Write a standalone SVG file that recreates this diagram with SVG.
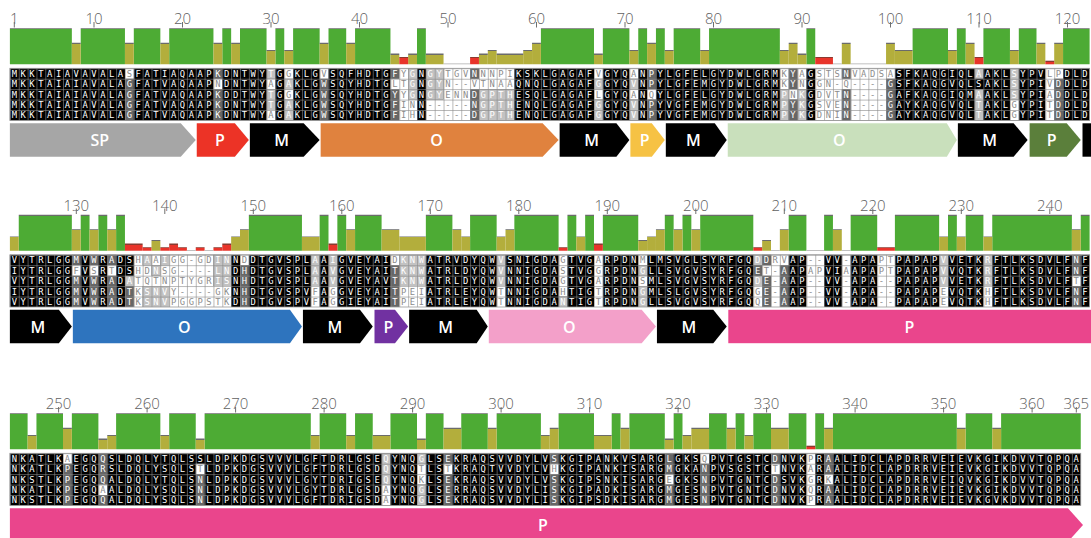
<svg xmlns="http://www.w3.org/2000/svg" width="1091" height="538" viewBox="0 0 1091 538">
<style>
.num{font-family:"Open Sans","Liberation Sans",sans-serif;font-size:15px;font-weight:300;fill:#5f5f5f;text-anchor:middle}
.tk{stroke:#6f6f6f;stroke-width:1;fill:none}
.seq{font-family:"DejaVu Sans Mono","Liberation Mono",monospace;font-size:8.8px;letter-spacing:3.552px}
.lab{font-family:"Open Sans","Liberation Sans",sans-serif;font-size:16px;font-weight:600;fill:#fff;text-anchor:middle}
.bG{fill:url(#gG)}.bA{fill:url(#gA)}.bB{fill:url(#gB)}.bC{fill:url(#gC)}.bD{fill:url(#gD)}.bE{fill:url(#gE)}.bZ{fill:#ababab}
.cd{fill:#666}.cl{fill:#c2c2c2}.cw{fill:#fff}
.blk{fill:#000}
.grid{fill:url(#grid);stroke:#9a9a9a;stroke-width:.8}
</style>
<defs>
<linearGradient id="gG" gradientUnits="userSpaceOnUse" x1="0" y1="28.3" x2="0" y2="64.3"><stop offset="0" stop-color="#6b6b6b"/><stop offset=".028" stop-color="#6b6b6b"/><stop offset=".028" stop-color="#4dab34"/><stop offset="1" stop-color="#4dab34"/></linearGradient>
<linearGradient id="gA" gradientUnits="userSpaceOnUse" x1="0" y1="42.7" x2="0" y2="64.3"><stop offset="0" stop-color="#6b6b6b"/><stop offset=".046" stop-color="#6b6b6b"/><stop offset=".046" stop-color="#b3ae3c"/><stop offset="1" stop-color="#b3ae3c"/></linearGradient>
<linearGradient id="gB" gradientUnits="userSpaceOnUse" x1="0" y1="49.9" x2="0" y2="64.3"><stop offset="0" stop-color="#6b6b6b"/><stop offset=".07" stop-color="#6b6b6b"/><stop offset=".07" stop-color="#b3ae3c"/><stop offset="1" stop-color="#b3ae3c"/></linearGradient>
<linearGradient id="gC" gradientUnits="userSpaceOnUse" x1="0" y1="53.5" x2="0" y2="64.3"><stop offset="0" stop-color="#6b6b6b"/><stop offset=".093" stop-color="#6b6b6b"/><stop offset=".093" stop-color="#b3ae3c"/><stop offset="1" stop-color="#b3ae3c"/></linearGradient>
<linearGradient id="gD" gradientUnits="userSpaceOnUse" x1="0" y1="57.1" x2="0" y2="64.3"><stop offset="0" stop-color="#8a3a30"/><stop offset=".14" stop-color="#8a3a30"/><stop offset=".14" stop-color="#e8342a"/><stop offset="1" stop-color="#e8342a"/></linearGradient>
<linearGradient id="gE" gradientUnits="userSpaceOnUse" x1="0" y1="60.7" x2="0" y2="64.3"><stop offset="0" stop-color="#8a3a30"/><stop offset=".28" stop-color="#8a3a30"/><stop offset=".28" stop-color="#e8342a"/><stop offset="1" stop-color="#e8342a"/></linearGradient>
<pattern id="grid" patternUnits="userSpaceOnUse" x="9.9" y="68.3" width="8.85" height="10.44"><rect width="0.6" height="10.44" fill="#8a8a8a"/><rect width="8.85" height="0.6" fill="#8a8a8a"/></pattern>
<path id="w1" d="M13 0h1v1h-1zM31 0h1v1h-1zM35 0h1v1h-1zM44 0h1v1h-1zM49 0h3v1h-3zM53 0h4v1h-4zM66 0h1v1h-1zM70 0h1v1h-1zM87 0h1v1h-1zM89 0h1v1h-1zM91 0h3v1h-3zM95 0h5v1h-5zM117 0h2v1h-2zM23 1h1v1h-1zM29 1h1v1h-1zM43 1h2v1h-2zM49 1h8v1h-8zM87 1h1v1h-1zM89 1h1v1h-1zM91 1h8v1h-8zM117 1h1v1h-1zM31 2h1v1h-1zM44 2h1v1h-1zM49 2h3v1h-3zM66 2h1v1h-1zM70 2h1v1h-1zM72 2h1v1h-1zM88 2h1v1h-1zM91 2h3v1h-3zM95 2h4v1h-4zM117 2h1v1h-1zM44 3h2v2h-2zM47 3h5v2h-5zM91 3h3v2h-3zM95 3h4v2h-4zM113 3h1v2h-1zM117 3h1v2h-1zM29 4h1v1h-1z"/>
<path id="d1" d="M23 0h1v1h-1zM43 0h1v1h-1zM52 0h1v1h-1zM72 0h1v1h-1zM88 0h1v1h-1zM94 0h1v1h-1zM13 1h1v1h-1zM35 1h1v1h-1zM72 1h1v1h-1zM88 1h1v1h-1zM99 1h1v1h-1zM118 1h1v1h-1zM13 2h1v1h-1zM23 2h1v1h-1zM35 2h1v1h-1zM43 2h1v1h-1zM52 2h1v1h-1zM94 2h1v1h-1zM99 2h1v1h-1zM118 2h1v1h-1zM13 3h1v2h-1zM23 3h1v2h-1zM35 3h1v2h-1zM43 3h1v2h-1zM52 3h1v2h-1zM72 3h1v2h-1zM88 3h1v2h-1zM94 3h1v2h-1zM99 3h1v2h-1zM118 3h1v2h-1z"/>
<path id="l1" d="M29 0h1v1h-1zM45 0h1v1h-1zM47 0h2v1h-2zM109 0h1v1h-1zM113 0h1v1h-1zM31 1h1v1h-1zM45 1h1v1h-1zM47 1h2v1h-2zM66 1h1v1h-1zM70 1h1v1h-1zM113 1h1v1h-1zM29 2h1v1h-1zM45 2h1v1h-1zM47 2h2v1h-2zM53 2h4v1h-4zM87 2h1v1h-1zM89 2h1v1h-1zM109 2h1v1h-1zM113 2h1v1h-1zM29 3h1v1h-1zM31 3h1v2h-1zM53 3h4v2h-4zM66 3h1v2h-1zM70 3h1v2h-1zM87 3h1v2h-1zM89 3h1v2h-1zM109 3h1v2h-1z"/>
<path id="w2" d="M14 0h1v5h-1zM18 0h5v5h-5zM66 0h1v5h-1zM86 0h1v5h-1zM90 0h2v5h-2zM94 0h1v5h-1zM98 0h2v5h-2zM62 0h1v4h-1zM16 0h1v1h-1zM26 0h1v1h-1zM43 0h1v1h-1zM71 0h1v1h-1zM87 0h1v1h-1zM7 1h1v1h-1zM9 1h1v1h-1zM11 1h1v1h-1zM15 1h1v1h-1zM17 1h1v1h-1zM85 1h1v1h-1zM15 2h3v1h-3zM71 2h1v1h-1zM120 2h1v1h-1zM23 3h2v2h-2zM34 3h1v2h-1zM36 3h1v2h-1zM44 3h3v2h-3zM55 3h1v2h-1zM84 3h1v2h-1zM105 3h1v2h-1zM110 3h1v2h-1z"/>
<path id="d2" d="M7 0h1v1h-1zM7 2h1v3h-1zM9 0h1v1h-1zM9 2h1v3h-1zM11 0h1v1h-1zM11 2h1v3h-1zM85 0h1v1h-1zM85 2h1v3h-1zM26 1h1v4h-1zM43 1h1v4h-1zM87 1h1v4h-1zM120 0h1v2h-1zM120 3h1v2h-1zM84 1h1v1h-1zM13 3h1v2h-1z"/>
<path id="l2" d="M23 0h2v3h-2zM34 0h1v3h-1zM36 0h1v3h-1zM44 0h3v3h-3zM55 0h1v3h-1zM105 0h1v3h-1zM110 0h1v3h-1zM84 0h1v1h-1zM84 2h1v1h-1zM15 0h1v1h-1zM17 0h1v1h-1zM16 1h1v1h-1zM15 3h3v2h-3zM71 1h1v1h-1zM71 3h1v2h-1zM13 2h1v1h-1zM62 4h1v1h-1z"/>
<path id="w3" d="M90 0h1v5h-1zM6 0h1v1h-1zM78 0h1v1h-1zM21 1h1v1h-1zM46 1h1v2h-1zM49 1h1v1h-1zM61 1h1v1h-1zM86 1h1v1h-1zM74 2h1v1h-1zM92 2h1v1h-1zM10 3h1v1h-1zM42 3h1v2h-1z"/>
<path id="d3" d="M6 1h1v4h-1zM10 0h1v3h-1zM10 4h1v1h-1zM21 2h1v3h-1zM49 0h1v1h-1zM49 2h1v3h-1zM61 0h1v1h-1zM61 2h1v3h-1zM74 0h1v2h-1zM74 3h1v2h-1zM78 1h1v4h-1zM86 0h1v1h-1zM86 2h1v3h-1zM92 0h1v2h-1zM92 3h1v2h-1z"/>
<path id="l3" d="M42 0h1v3h-1zM46 0h1v1h-1zM46 3h1v2h-1z"/>
<clipPath id="cw1"><use href="#w1" transform="translate(9.9 68.3) scale(8.85 10.44)"/></clipPath>
<clipPath id="cw2"><use href="#w2" transform="translate(9.9 68.3) scale(8.85 10.44)"/></clipPath>
<clipPath id="cw3"><use href="#w3" transform="translate(9.9 68.3) scale(8.85 10.44)"/></clipPath>
</defs>
<rect width="1091" height="538" fill="#fff"/>

<g id="row1">
<g id="ruler1">
<text class="num" x="14.3" y="24">1</text><text class="num" x="94" y="24">10</text><text class="num" x="182.5" y="24">20</text><text class="num" x="271" y="24">30</text><text class="num" x="359.5" y="24">40</text><text class="num" x="448" y="24">50</text><text class="num" x="536.5" y="24">60</text><text class="num" x="625" y="24">70</text><text class="num" x="713.5" y="24">80</text><text class="num" x="802" y="24">90</text><text class="num" x="890.5" y="24">100</text><text class="num" x="979" y="24">110</text><text class="num" x="1067.5" y="24">120</text>
<path class="tk" d="M14.3 22v5.5M94 22v5.5M182.5 22v5.5M271 22v5.5M359.5 22v5.5M448 22v5.5M536.5 22v5.5M625 22v5.5M713.5 22v5.5M802 22v5.5M890.5 22v5.5M979 22v5.5M1067.5 22v5.5"/>
</g>
<g id="bars1" transform="translate(9.9 0) scale(8.85 1)">
<path class="bG" d="M0 28.3h7V64.3h-7zM8 28.3h5V64.3h-5zM14 28.3h3V64.3h-3zM18 28.3h5V64.3h-5zM24 28.3h1V64.3h-1zM26 28.3h3V64.3h-3zM30 28.3h1V64.3h-1zM32 28.3h3V64.3h-3zM36 28.3h2V64.3h-2zM39 28.3h4V64.3h-4zM46 28.3h1V64.3h-1zM60 28.3h6V64.3h-6zM67 28.3h3V64.3h-3zM71 28.3h1V64.3h-1zM73 28.3h1V64.3h-1zM75 28.3h3V64.3h-3zM79 28.3h8V64.3h-8zM90 28.3h1V64.3h-1zM102 28.3h4V64.3h-4zM107 28.3h1V64.3h-1zM110 28.3h3V64.3h-3zM114 28.3h2V64.3h-2zM119 28.3h3V64.3h-3z"/>
<path class="bA" d="M7 42.7h1V64.3h-1zM13 42.7h1V64.3h-1zM17 42.7h1V64.3h-1zM23 42.7h1V64.3h-1zM25 42.7h1V64.3h-1zM35 42.7h1V64.3h-1zM38 42.7h1V64.3h-1zM59 42.7h1V64.3h-1zM72 42.7h1V64.3h-1zM88 42.7h1V64.3h-1zM94 42.7h1V64.3h-1zM99 42.7h1V64.3h-1zM108 42.7h1V64.3h-1zM116 42.7h1V64.3h-1zM118 42.7h1V64.3h-1z"/>
<path class="bB" d="M29 49.9h1V64.3h-1zM31 49.9h1V64.3h-1zM54 49.9h1V64.3h-1zM58 49.9h1V64.3h-1zM70 49.9h1V64.3h-1zM74 49.9h1V64.3h-1zM78 49.9h1V64.3h-1zM87 49.9h1V64.3h-1zM100 49.9h2V64.3h-2zM106 49.9h1V64.3h-1zM113 49.9h1V64.3h-1z"/>
<path class="bC" d="M43 53.5h1V64.3h-1zM45 53.5h1V64.3h-1zM47 53.5h2V64.3h-2zM53 53.5h1V64.3h-1zM55 53.5h3V64.3h-3zM66 53.5h1V64.3h-1zM89 53.5h1V64.3h-1z"/>
<path class="bD" d="M44 57.1h1V64.3h-1zM52 57.1h1V64.3h-1zM91 57.1h2V64.3h-2zM109 57.1h1V64.3h-1z"/>
<path class="bE" d="M117 60.7h1V64.3h-1z"/>
<path class="bZ" d="M49 63.5h3v.8h-3zM93 63.5h1v.8h-1zM95 63.5h4v.8h-4z"/>
</g>
<g id="align1">
<g transform="translate(9.9 68.3) scale(8.85 10.44)"><rect class="blk" width="122" height="5"/><use href="#d1" class="cd"/><use href="#l1" class="cl"/><use href="#w1" class="cw"/></g>
<rect class="grid" x="9.9" y="68.3" width="1079.7" height="52.2"/>
<g fill="#fff"><g id="t1"><text class="seq"><tspan x="11.676" y="76.73">MKKTAIAVAVALASFATIAQAAPKDNTWYTGGKLGVSQFHDTGFYGNGYTGVNNNPIKSKLGAGAFVGYQANPYLGFELGYDWLGRMKYAGSTSNVADSASFKAQGIQLAAKLSYPVLPDLD</tspan><tspan x="11.676" y="87.17">MKKTAIAIAVALAGFATVAQAAPNDNTWYAGAKLGWSQYHDTGLTGNGYN--VTNAAQNQLGAGAFGGYQVNPYLGFEMGYDWLGRMKYNGGN-Q----GSFKAQGVQLSAKLSYPIVDDLD</tspan><tspan x="11.676" y="97.61">MKKTAIAIAVALAGFATVAQAAPKDDTWYTGGKLGWSQYHDTGYYGNGYENNDGPTHESQLGAGAFLGYQANQYLGFELGYDWLGRMPNKGDVTN----GAFKAQGIQMAAKLSYPIADDLD</tspan><tspan x="11.676" y="108.05">MKKTAIAIAVALAGFATVAQAAPKDNTWYTGAKLGWSQYHDTGFINN-----NGPTHENQLGAGAFGGYQVNPYVGFEMGYDWLGRMPYKGSVEN----GAYKAQGVQLTAKLGYPITDDLD</tspan><tspan x="11.676" y="118.49">MKKTAIAIAVALAGFATVAQAAPKDNTWYAGAKLGWSQYHDTGFIHN-----DGPTHENQLGAGAFGGYQVNPYVGFEMGYDWLGRMPYKGDNIN----GAYKAQGVQLTAKLGYPITDDLD</tspan></text></g></g>
<use href="#t1" fill="#8c8c8c" clip-path="url(#cw1)"/>
</g>
<g id="domains1">
<polygon fill="#a6a6a6" points="9.9,123.3 180.75,123.3 195.75,140 180.75,156.7 9.9,156.7"/><text class="lab" x="99.8" y="146">SP</text>
<polygon fill="#ec3326" points="196.75,123.3 234.85,123.3 248.85,140 234.85,156.7 196.75,156.7"/><text class="lab" x="219.8" y="146">P</text>
<polygon fill="#000" points="249.85,123.3 303.65,123.3 319.65,140 303.65,156.7 249.85,156.7"/><text class="lab" x="281.7" y="146">M</text>
<polygon fill="#e0823e" points="320.65,123.3 542.6,123.3 558.6,140 542.6,156.7 320.65,156.7"/><text class="lab" x="436.6" y="146">O</text>
<polygon fill="#000" points="559.6,123.3 616.4,123.3 629.4,140 616.4,156.7 559.6,156.7"/><text class="lab" x="591.5" y="146">M</text>
<polygon fill="#f6c244" points="630.4,123.3 651.8,123.3 664.8,140 651.8,156.7 630.4,156.7"/><text class="lab" x="644.6" y="146">P</text>
<polygon fill="#000" points="665.8,123.3 714.75,123.3 726.75,140 714.75,156.7 665.8,156.7"/><text class="lab" x="693.3" y="146">M</text>
<polygon fill="#c9e0bc" points="727.75,123.3 946.85,123.3 956.85,140 946.85,156.7 727.75,156.7"/><text class="lab" x="839.3" y="146">O</text>
<polygon fill="#000" points="957.85,123.3 1013.65,123.3 1027.65,140 1013.65,156.7 957.85,156.7"/><text class="lab" x="989.7" y="146">M</text>
<polygon fill="#5b7f3b" points="1029.65,123.3 1066.75,123.3 1080.75,140 1066.75,156.7 1029.65,156.7"/><text class="lab" x="1051.7" y="146">P</text>
<rect fill="#000" x="1082.5" y="123.3" width="8.5" height="33.4"/>
</g>
</g>

<g id="row2" transform="translate(0 186.5)">
<g id="ruler2">
<text class="num" x="76.3" y="24">130</text><text class="num" x="164.8" y="24">140</text><text class="num" x="253.3" y="24">150</text><text class="num" x="341.8" y="24">160</text><text class="num" x="430.3" y="24">170</text><text class="num" x="518.8" y="24">180</text><text class="num" x="607.3" y="24">190</text><text class="num" x="695.8" y="24">200</text><text class="num" x="784.3" y="24">210</text><text class="num" x="872.8" y="24">220</text><text class="num" x="961.3" y="24">230</text><text class="num" x="1049.8" y="24">240</text>
<path class="tk" d="M76.3 22v5.5M164.8 22v5.5M253.3 22v5.5M341.8 22v5.5M430.3 22v5.5M518.8 22v5.5M607.3 22v5.5M695.8 22v5.5M784.3 22v5.5M872.8 22v5.5M961.3 22v5.5M1049.8 22v5.5"/>
</g>
<g id="bars2" transform="translate(9.9 0) scale(8.85 1)">
<path class="bG" d="M1 28.3h6V64.3h-6zM8 28.3h1V64.3h-1zM10 28.3h1V64.3h-1zM12 28.3h1V64.3h-1zM27 28.3h6V64.3h-6zM35 28.3h1V64.3h-1zM37 28.3h1V64.3h-1zM39 28.3h3V64.3h-3zM47 28.3h3V64.3h-3zM52 28.3h3V64.3h-3zM57 28.3h5V64.3h-5zM63 28.3h1V64.3h-1zM65 28.3h1V64.3h-1zM67 28.3h4V64.3h-4zM74 28.3h1V64.3h-1zM76 28.3h1V64.3h-1zM78 28.3h6V64.3h-6zM88 28.3h2V64.3h-2zM92 28.3h1V64.3h-1zM95 28.3h3V64.3h-3zM100 28.3h5V64.3h-5zM106 28.3h1V64.3h-1zM108 28.3h2V64.3h-2zM111 28.3h9V64.3h-9zM121 28.3h1V64.3h-1z"/>
<path class="bA" d="M7 42.7h1V64.3h-1zM9 42.7h1V64.3h-1zM11 42.7h1V64.3h-1zM26 42.7h1V64.3h-1zM38 42.7h1V64.3h-1zM42 42.7h2V64.3h-2zM50 42.7h1V64.3h-1zM56 42.7h1V64.3h-1zM73 42.7h1V64.3h-1zM75 42.7h1V64.3h-1zM77 42.7h1V64.3h-1zM87 42.7h1V64.3h-1zM93 42.7h1V64.3h-1zM120 42.7h1V64.3h-1z"/>
<path class="bB" d="M0 49.9h1V64.3h-1zM25 49.9h1V64.3h-1zM33 49.9h2V64.3h-2zM44 49.9h3V64.3h-3zM51 49.9h1V64.3h-1zM55 49.9h1V64.3h-1zM64 49.9h1V64.3h-1zM72 49.9h1V64.3h-1zM105 49.9h1V64.3h-1zM107 49.9h1V64.3h-1zM110 49.9h1V64.3h-1z"/>
<path class="bC" d="M16 53.5h1V64.3h-1zM71 53.5h1V64.3h-1zM85 53.5h1V64.3h-1z"/>
<path class="bD" d="M13 57.1h2V64.3h-2zM18 57.1h1V64.3h-1zM24 57.1h1V64.3h-1zM36 57.1h1V64.3h-1zM66 57.1h1V64.3h-1z"/>
<path class="bE" d="M15 60.7h1V64.3h-1zM17 60.7h1V64.3h-1zM19 60.7h1V64.3h-1zM21 60.7h1V64.3h-1zM23 60.7h1V64.3h-1zM62 60.7h1V64.3h-1zM84 60.7h1V64.3h-1zM98 60.7h2V64.3h-2z"/>
<path class="bZ" d="M20 63.5h1v.8h-1zM22 63.5h1v.8h-1zM86 63.5h1v.8h-1zM90 63.5h2v.8h-2zM94 63.5h1v.8h-1z"/>
</g>
<g id="align2">
<g transform="translate(9.9 68.3) scale(8.85 10.44)"><rect class="blk" width="122" height="5"/><use href="#d2" class="cd"/><use href="#l2" class="cl"/><use href="#w2" class="cw"/></g>
<rect class="grid" x="9.9" y="68.3" width="1079.7" height="52.2"/>
<g fill="#fff"><g id="t2"><text class="seq"><tspan x="11.676" y="76.73">VYTRLGGMVWRADSHAAIGG-GDINNDDTGVSPLAAIGVEYAIDKNWATRVDYQWVSNIGDAGTVGARPDNMLMSVGLSYRFGQDDRVAP--VV-APAPTPAPAPVVETKRFTLKSDVLFNF</tspan><tspan x="11.676" y="87.17">IYTRLGGFVSRTDSHDNSG----LNDHDTGVSPLAAVGVEYAITKNWATRLDYQWVNNIGDASTVGGRPDNGLLSVGVSYRFGQET-AAPAPVIAAPAPTPAPAPVVQTKRFTLKSDVLFNF</tspan><tspan x="11.676" y="97.61">VYTRLGGMVWRADATQTNPTYGRISNHDTGVSPLAAVGVEYAVTKNWATRLDYQWVNNIGDAGTVGARPDNSMLSVGVSYRFGQDE-AAP--VV-APA--PAPAPVVETKRFTLKSDVLFTF</tspan><tspan x="11.676" y="108.05">IYTRLGGMVWRADTKSNVY----GKNHDTGVSPVFAGGVEYAITPEIATRLEYQWTNNIGDAHTIGTRPDNGMLSLGVSYRFGQGE-AAP--VV-APA--PAPAPEVQTKHFTLKSDVLFNF</tspan><tspan x="11.676" y="118.49">VYTRLGGMVWRADTKSNVPGGPSTKDHDTGVSPVFAGGIEYAITPEIATRLEYQWTNNIGDANTIGTRPDNGLLSVGVSYRFGQQE-AAP--VV-APA--PAPAPEVQTKHFTLKSDVLFNF</tspan></text></g></g>
<use href="#t2" fill="#8c8c8c" clip-path="url(#cw2)"/>
</g>
<g id="domains2">
<polygon fill="#000" points="9.9,123.3 58.85,123.3 71.85,140 58.85,156.7 9.9,156.7"/><text class="lab" x="37.9" y="146">M</text>
<polygon fill="#2e74be" points="72.85,123.3 289.95,123.3 301.95,140 289.95,156.7 72.85,156.7"/><text class="lab" x="184.4" y="146">O</text>
<polygon fill="#000" points="302.95,123.3 360,123.3 372.75,140 360,156.7 302.95,156.7"/><text class="lab" x="334.8" y="146">M</text>
<polygon fill="#7131a1" points="374.5,123.3 395,123.3 408.15,140 395,156.7 374.5,156.7"/><text class="lab" x="388.3" y="146">P</text>
<polygon fill="#000" points="409.15,123.3 476.7,123.3 487.8,140 476.7,156.7 409.15,156.7"/><text class="lab" x="445.5" y="146">M</text>
<polygon fill="#f3a0c9" points="488.8,123.3 641.7,123.3 655.95,140 641.7,156.7 488.8,156.7"/><text class="lab" x="569.4" y="146">O</text>
<polygon fill="#000" points="656.95,123.3 713.3,123.3 726.75,140 713.3,156.7 656.95,156.7"/><text class="lab" x="688.8" y="146">M</text>
<rect fill="#ea458c" x="728.3" y="123.3" width="362.7" height="33.4"/><text class="lab" x="909.4" y="146">P</text>
</g>
</g>

<g id="row3" transform="translate(0 385)">
<g id="ruler3">
<text class="num" x="58.6" y="24">250</text><text class="num" x="147.1" y="24">260</text><text class="num" x="235.6" y="24">270</text><text class="num" x="324.1" y="24">280</text><text class="num" x="412.6" y="24">290</text><text class="num" x="501.1" y="24">300</text><text class="num" x="589.6" y="24">310</text><text class="num" x="678.1" y="24">320</text><text class="num" x="766.6" y="24">330</text><text class="num" x="855.1" y="24">340</text><text class="num" x="943.6" y="24">350</text><text class="num" x="1032.1" y="24">360</text><text class="num" x="1076.3" y="24">365</text>
<path class="tk" d="M58.6 22v5.5M147.1 22v5.5M235.6 22v5.5M324.1 22v5.5M412.6 22v5.5M501.1 22v5.5M589.6 22v5.5M678.1 22v5.5M766.6 22v5.5M855.1 22v5.5M943.6 22v5.5M1032.1 22v5.5M1076.3 22v5.5"/>
</g>
<g id="bars3" transform="translate(9.9 0) scale(8.85 1)">
<path class="bG" d="M0 28.3h2V64.3h-2zM3 28.3h3V64.3h-3zM7 28.3h3V64.3h-3zM12 28.3h5V64.3h-5zM18 28.3h3V64.3h-3zM22 28.3h12V64.3h-12zM35 28.3h3V64.3h-3zM39 28.3h2V64.3h-2zM43 28.3h3V64.3h-3zM47 28.3h2V64.3h-2zM51 28.3h3V64.3h-3zM55 28.3h5V64.3h-5zM62 28.3h4V64.3h-4zM68 28.3h1V64.3h-1zM70 28.3h4V64.3h-4zM75 28.3h1V64.3h-1zM79 28.3h2V64.3h-2zM82 28.3h1V64.3h-1zM84 28.3h2V64.3h-2zM88 28.3h2V64.3h-2zM91 28.3h1V64.3h-1zM93 28.3h14V64.3h-14zM108 28.3h3V64.3h-3zM112 28.3h9V64.3h-9z"/>
<path class="bA" d="M6 42.7h1V64.3h-1zM49 42.7h2V64.3h-2zM54 42.7h1V64.3h-1zM61 42.7h1V64.3h-1zM69 42.7h1V64.3h-1zM77 42.7h2V64.3h-2zM81 42.7h1V64.3h-1zM86 42.7h2V64.3h-2zM92 42.7h1V64.3h-1zM107 42.7h1V64.3h-1zM111 42.7h1V64.3h-1z"/>
<path class="bB" d="M2 49.9h1V64.3h-1zM11 49.9h1V64.3h-1zM17 49.9h1V64.3h-1zM34 49.9h1V64.3h-1zM38 49.9h1V64.3h-1zM41 49.9h2V64.3h-2zM60 49.9h1V64.3h-1zM66 49.9h2V64.3h-2zM76 49.9h1V64.3h-1zM83 49.9h1V64.3h-1z"/>
<path class="bC" d="M10 53.5h1V64.3h-1zM21 53.5h1V64.3h-1zM46 53.5h1V64.3h-1zM74 53.5h1V64.3h-1z"/>
<path class="bE" d="M90 60.7h1V64.3h-1z"/>
</g>
<g id="align3">
<g transform="translate(9.9 68.3) scale(8.85 10.44)"><rect class="blk" width="121" height="5"/><use href="#d3" class="cd"/><use href="#l3" class="cl"/><use href="#w3" class="cw"/></g>
<rect class="grid" x="9.9" y="68.3" width="1070.85" height="52.2"/>
<g fill="#fff"><g id="t3"><text class="seq"><tspan x="11.676" y="76.73">NKATLKAEGQQSLDQLYTQLSSLDPKDGSVVVLGFTDRLGSEQYNQGLSEKRAQSVVDYLVSKGIPANKVSARGLGKSQPVTGSTCDNVKPRAALIDCLAPDRRVEIEVKGIKDVVTQPQA</tspan><tspan x="11.676" y="87.17">NKATLKPEGQRSLDQLYSQLSTLDPKDGSVVVLGFTDRLGSDQYNQTLSTKRAQTVVDYLVHKGIPANKISARGMGKANPVSGSTCTNVKARAALIDCLAPDRRVEIEVKGIKDVVTQPQA</tspan><tspan x="11.676" y="97.61">NKSTLKPEGQQALDQLYTQLSNLDPKDGSVVVLGYTDRIGSEQYNQKLSEKRAQSVVDYLVSKGIPSNKISARGEGKSNPVTGNTCDSVKGRKALIDCLAPDRRVEIQVKGIKDVVTQPQA</tspan><tspan x="11.676" y="108.05">NKATLKPEGQAALDQLYSQLSNLDPKDGSVVVLGYTDRLGSDAYNQGLSERRAQSVVDYLISKGIPADKISARGMGESNPVTGNTCDNVKQRAALIDCLAPDRRVEIEVKGIKDVVTQPQA</tspan><tspan x="11.676" y="118.49">NKSTLKPEGQQALDQLYSQLSNLDPKDGSVVVLGFTDRIGSDAYNQGLSEKRAQSVVDYLISKGIPSDKISARGMGESNPVTGNTCDNVKPRAALIDCLAPDRRVEIEVKGVKDVVTQPQA</tspan></text></g></g>
<use href="#t3" fill="#8c8c8c" clip-path="url(#cw3)"/>
</g>
<g id="domains3">
<polygon fill="#ea458c" points="9.9,123.3 1068,123.3 1083,140 1068,156.7 9.9,156.7"/><text class="lab" x="543" y="146">P</text>
</g>
</g>
</svg>
